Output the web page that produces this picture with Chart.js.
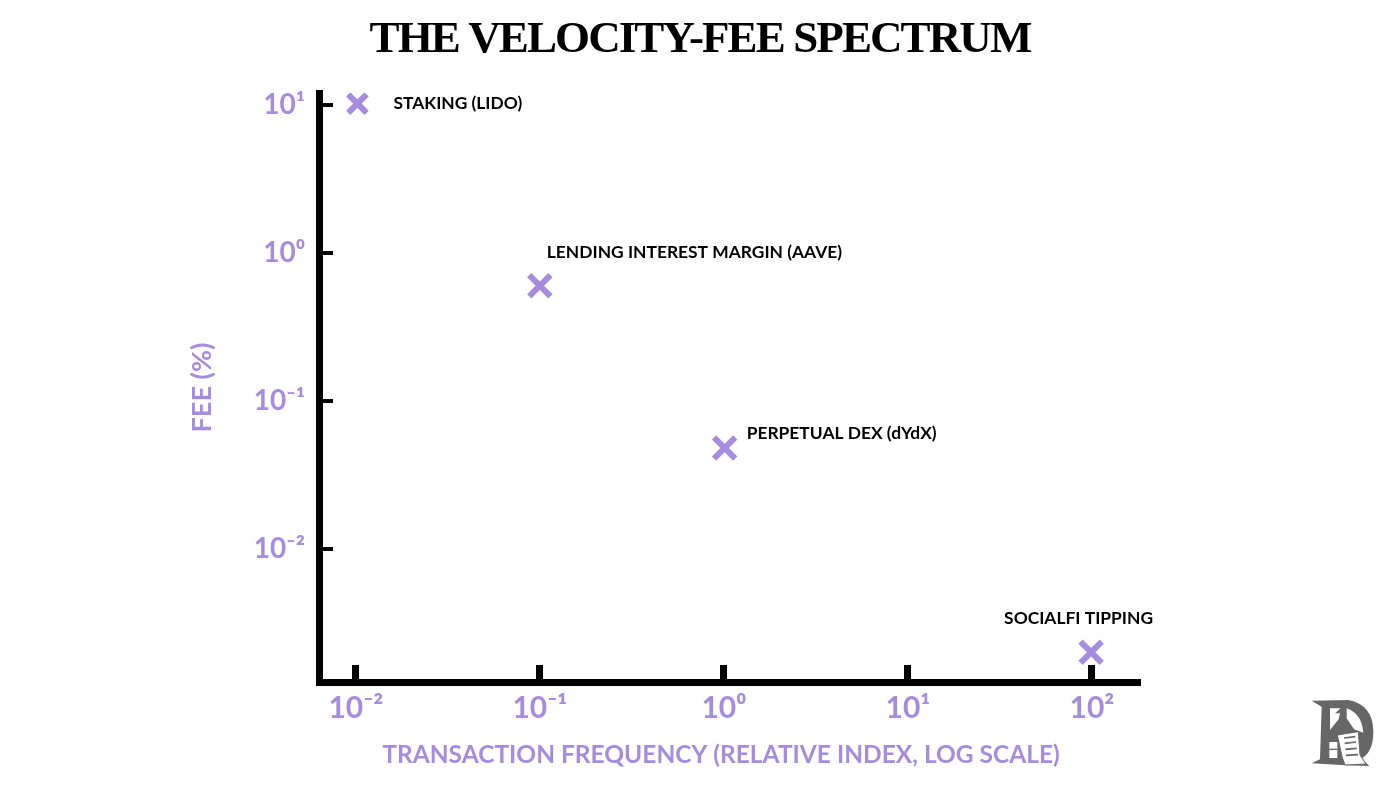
<!DOCTYPE html>
<html>
<head>
<meta charset="utf-8">
<title>The Velocity-Fee Spectrum</title>
<script src="https://cdn.jsdelivr.net/npm/chart.js@4"></script>
<style>
  html, body { margin: 0; padding: 0; background: #fff; }
  #wrap { position: relative; width: 1400px; height: 787px; overflow: hidden; }
  #logo { position: absolute; left: 1280px; top: 680px; width: 100px; height: 100px; }
</style>
</head>
<body>
<div id="wrap">
  <canvas id="chart" width="1400" height="787"></canvas>
  <!-- watermark in the corner -->
  <svg id="logo" viewBox="0 0 300 300">
    <path fill="#666" d="M95 62 L205 60 Q280 75 280 155 Q280 215 245 235 L268 258 L195 256 L95 250 L120 238 L125 80 Z"/>
    <path fill="#fff" d="M150 85 H182 L165 100 H180 L176 118 L150 150 Z"/>
    <path fill="#fff" d="M200 85 Q245 100 250 158 L222 148 L200 115 Z"/>
    <path fill="#fff" stroke="#666" stroke-width="3" d="M172 165 L235 155 L240 225 L258 252 L195 255 L186 230 Z"/>
    <path stroke="#666" stroke-width="5" d="M192 174 L226 170 M194 190 L228 186 M196 208 L230 205 M198 226 L234 224"/>
    <path fill="#fff" d="M148 186 H172 V234 H148 Z"/>
    <path stroke="#666" stroke-width="4" d="M148 208 H172"/>
  </svg>
</div>

<script>
const pointNames = ["STAKING (LIDO)", "LENDING INTEREST MARGIN (AAVE)", "PERPETUAL DEX (dYdX)", "SOCIALFI TIPPING"];
const frequencyValues = [0.0102, 0.1, 1.01, 99];
const feeValues = [10.2, 0.6, 0.048, 0.002];

const xTickValues = [0.01, 0.1, 1, 10, 100];
const xTickLabels = ["10⁻²", "10⁻¹", "10⁰", "10¹", "10²"];
const yTickValues = [0.01, 0.1, 1, 10];
const yTickLabels = ["10⁻²", "10⁻¹", "10⁰", "10¹"];

const titleText = "THE VELOCITY-FEE SPECTRUM";
const xTitle = "TRANSACTION FREQUENCY (RELATIVE INDEX, LOG SCALE)";
const yTitle = "FEE (%)";

const purple = "#a58cdc";
const handFont = "Lato";

// where each label sits next to its cross
const labelOffsets = [[36, 0], [7, -33], [22, -15], [-87, -34]];

// ---------------- PAGE TEXT ----------------

// the title and x title are centred on the page, not on the plot area
const pageText = {
  id: "pageText",
  afterDraw(chart) {
    let ctx = chart.ctx;
    ctx.save();
    ctx.textAlign = "center";
    ctx.textBaseline = "middle";

    ctx.fillStyle = "#000";
    ctx.font = "bold 45px 'Liberation Serif'";
    ctx.letterSpacing = "-1.9px";
    ctx.fillText(titleText, 700, 40);

    ctx.fillStyle = purple;
    ctx.font = "bold 24.5px " + handFont;
    ctx.letterSpacing = "0px";
    ctx.fillText(xTitle, 721, 755);
    ctx.restore();
  }
};

// ---------------- POINT LABELS ----------------

const pointLabels = {
  id: "pointLabels",
  afterDatasetsDraw(chart) {
    let ctx = chart.ctx;
    let meta = chart.getDatasetMeta(0);
    ctx.save();
    ctx.fillStyle = "#000";
    ctx.font = "bold 17.4px " + handFont;
    ctx.textAlign = "left";
    ctx.textBaseline = "middle";
    meta.data.forEach((pt, i) => {
      ctx.fillText(pointNames[i], pt.x + labelOffsets[i][0], pt.y + labelOffsets[i][1]);
    });
    ctx.restore();
  }
};

// ---------------- TICKS ----------------

function useTicks(scale, values) {
  scale.ticks = values.map(v => ({ value: v, major: true }));
}

// ---------------- CHART ----------------

let points = frequencyValues.map((f, i) => ({ x: f, y: feeValues[i] }));

new Chart(document.getElementById("chart"), {
  type: "scatter",
  data: {
    datasets: [{
      data: points,
      pointStyle: "crossRot",
      radius: [13, 15, 15, 15],
      borderWidth: 6,
      borderColor: purple,
      backgroundColor: purple
    }]
  },
  options: {
    responsive: false,
    animation: false,
    layout: { padding: { left: 0, right: 263, top: 93, bottom: 0 } },
    plugins: {
      legend: { display: false },
      tooltip: { enabled: false },
      title: { display: false }
    },
    scales: {
      x: {
        type: "logarithmic",
        min: Math.pow(10, -2.2),
        max: Math.pow(10, 2.245),
        afterBuildTicks: scale => useTicks(scale, xTickValues),
        afterFit: scale => { scale.height = 105; },
        border: { color: "#000", width: 7 },
        grid: { drawOnChartArea: false, color: "#000", lineWidth: 7, tickLength: -17 },
        ticks: {
          autoSkip: false,
          maxRotation: 0,
          padding: 25,
          color: purple,
          font: { family: handFont, size: 30, weight: "bold" },
          callback: (v, i) => xTickLabels[i]
        }
      },
      y: {
        type: "logarithmic",
        min: Math.pow(10, -2.9),
        max: Math.pow(10, 1.08),
        afterBuildTicks: scale => useTicks(scale, yTickValues),
        afterFit: scale => { scale.width = 319; },
        border: { color: "#000", width: 7 },
        grid: { drawOnChartArea: false, color: "#000", lineWidth: 4, tickLength: -14 },
        ticks: {
          autoSkip: false,
          padding: 28,
          color: purple,
          font: { family: handFont, size: 28, weight: "bold" },
          callback: (v, i) => yTickLabels[i]
        },
        title: {
          display: true,
          text: yTitle,
          color: purple,
          font: { family: handFont, size: 27, weight: "bold" },
          padding: { top: 186, bottom: 0 }
        }
      }
    }
  },
  plugins: [pointLabels, pageText]
});
</script>
</body>
</html>
